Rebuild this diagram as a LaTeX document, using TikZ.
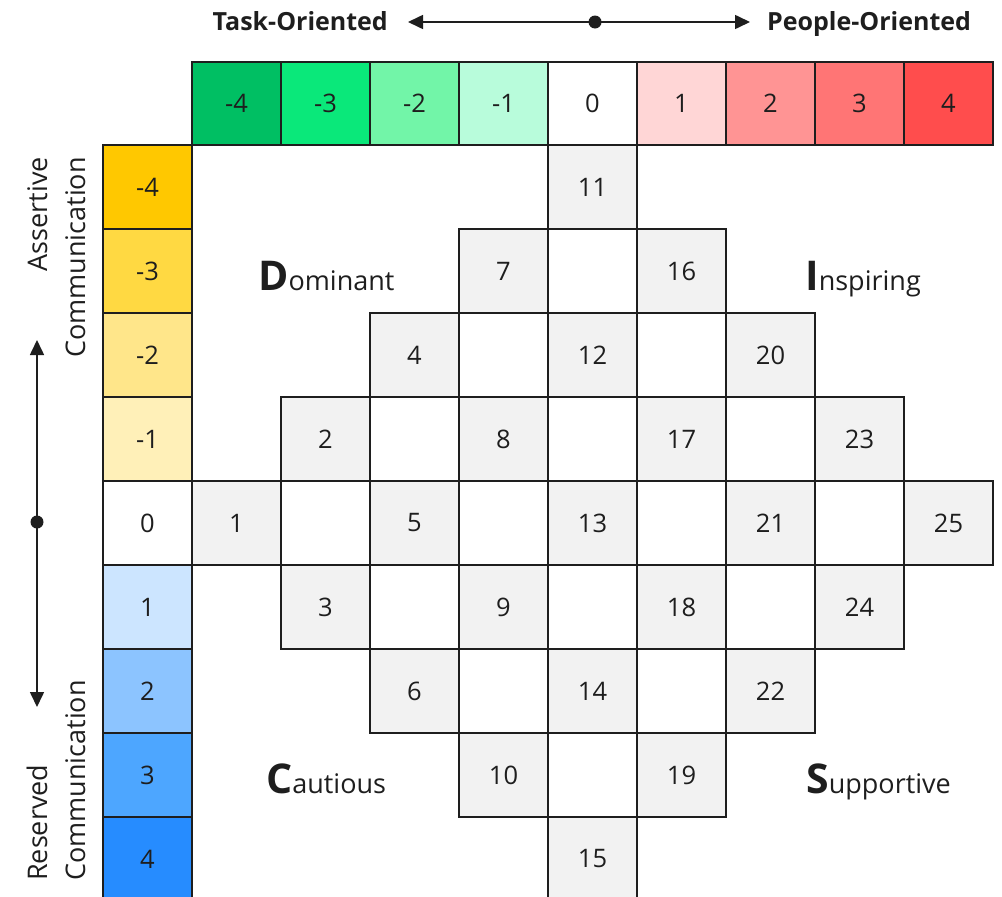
\documentclass[tikz,border=0pt]{standalone}
\usepackage{fontspec}
\setmainfont{Open Sans}
\usetikzlibrary{arrows.meta}
\definecolor{hm4}{HTML}{00BF63}
\definecolor{hm3}{HTML}{0AE87A}
\definecolor{hm2}{HTML}{72F5A8}
\definecolor{hm1}{HTML}{B8FCDB}
\definecolor{hz}{HTML}{FFFFFF}
\definecolor{hp1}{HTML}{FFD6D6}
\definecolor{hp2}{HTML}{FF9494}
\definecolor{hp3}{HTML}{FF7575}
\definecolor{hp4}{HTML}{FF4D4D}
\definecolor{vm4}{HTML}{FFC800}
\definecolor{vm3}{HTML}{FFD942}
\definecolor{vm2}{HTML}{FFE68A}
\definecolor{vm1}{HTML}{FFF0B8}
\definecolor{vp1}{HTML}{CCE5FF}
\definecolor{vp2}{HTML}{8CC4FF}
\definecolor{vp3}{HTML}{4DA6FF}
\definecolor{vp4}{HTML}{268CFF}
\definecolor{cellgray}{HTML}{F2F2F2}
\definecolor{ink}{HTML}{1E1E1E}
\newcommand{\qbig}[1]{{\fontsize{41}{44}\selectfont\bfseries #1}}
\begin{document}
\begin{tikzpicture}[x=1pt,y=-1pt,
  cellbox/.style={draw=ink, line width=1.2pt, minimum width=89pt, minimum height=84pt,
    inner sep=0pt, font=\fontsize{25.5}{30}\selectfont, text=ink},
  hbox/.style={cellbox, minimum height=83pt},
  graycell/.style={cellbox, fill=cellgray},
  whitecell/.style={cellbox, fill=white},
  axislab/.style={inner sep=0pt, font=\fontsize{25}{30}\selectfont\bfseries, text=ink},
  sidelab/.style={inner sep=0pt, rotate=90, font=\fontsize{27}{32}\selectfont, text=ink},
  quadlab/.style={inner sep=0pt, anchor=base west, font=\fontsize{27}{32}\selectfont, text=ink},
  axis/.style={line width=1.6pt, draw=ink, -{Triangle[length=15pt,width=14pt]}},
]
\useasboundingbox (0,0) rectangle (1002,897);
\clip (0,0) rectangle (1002,897);
\fill[white] (0,0) rectangle (1002,897);
% header row
\foreach \c/\col in {-4/hm4,-3/hm3,-2/hm2,-1/hm1,0/hz,1/hp1,2/hp2,3/hp3,4/hp4}{
  \node[hbox, fill=\col] (h\c) at ({192+(\c+4)*89+44.5},103.5) {\c};
}
% left column
\foreach \r/\col in {-4/vm4,-3/vm3,-2/vm2,-1/vm1,0/hz,1/vp1,2/vp2,3/vp3,4/vp4}{
  \node[cellbox, fill=\col] (v\r) at (147.5,{145+(\r+4)*84+42}) {\r};
}
% white cells of the diamond
\foreach \r/\c [count=\i] in {-3/0,-2/-1,-2/1,-1/-2,-1/0,-1/2,0/-3,0/-1,0/1,0/3,1/-2,1/0,1/2,2/-1,2/1,3/0}{
  \node[whitecell] (w\i) at ({192+(\c+4)*89+44.5},{145+(\r+4)*84+42}) {};
}
% numbered cells
\foreach \r/\c/\n in {0/-4/1,-1/-3/2,1/-3/3,-2/-2/4,0/-2/5,2/-2/6,-3/-1/7,-1/-1/8,1/-1/9,3/-1/10,
  -4/0/11,-2/0/12,0/0/13,2/0/14,4/0/15,-3/1/16,-1/1/17,1/1/18,3/1/19,-2/2/20,0/2/21,2/2/22,
  -1/3/23,1/3/24,0/4/25}{
  \node[graycell] (n\n) at ({192+(\c+4)*89+44.5},{145+(\r+4)*84+42}) {\n};
}
% horizontal axis
\node[axislab, anchor=base east] (task) at (388,30) {Task-Oriented};
\node[axislab, anchor=base west] (people) at (767,30) {People-Oriented};
\coordinate (hdot) at (595,22);
\coordinate (hleft) at (408,22);
\coordinate (hright) at (750,22);
\draw[axis] (hdot) -- (hleft);
\draw[axis] (hdot) -- (hright);
\fill[ink] (hdot) circle (6.5pt);
% vertical axis
\coordinate (vdot) at (37,522);
\coordinate (vtop) at (37,340);
\coordinate (vbot) at (37,707);
\draw[axis] (vdot) -- (vtop);
\draw[axis] (vdot) -- (vbot);
\fill[ink] (vdot) circle (6.5pt);
\node[sidelab, anchor=base east] (assert) at (47,157) {Assertive};
\node[sidelab, anchor=base east] (comm1) at (85,157) {Communication};
\node[sidelab, anchor=base west] (reserv) at (47,881) {Reserved};
\node[sidelab, anchor=base west] (comm2) at (85,881) {Communication};
% quadrant labels
\node[quadlab] (dom) at (258,290) {\qbig{D}ominant};
\node[quadlab] (insp) at (805,290) {\qbig{I}nspiring};
\node[quadlab] (caut) at (266,793) {\qbig{C}autious};
\node[quadlab] (supp) at (806,793) {\qbig{S}upportive};
\end{tikzpicture}
\end{document}
